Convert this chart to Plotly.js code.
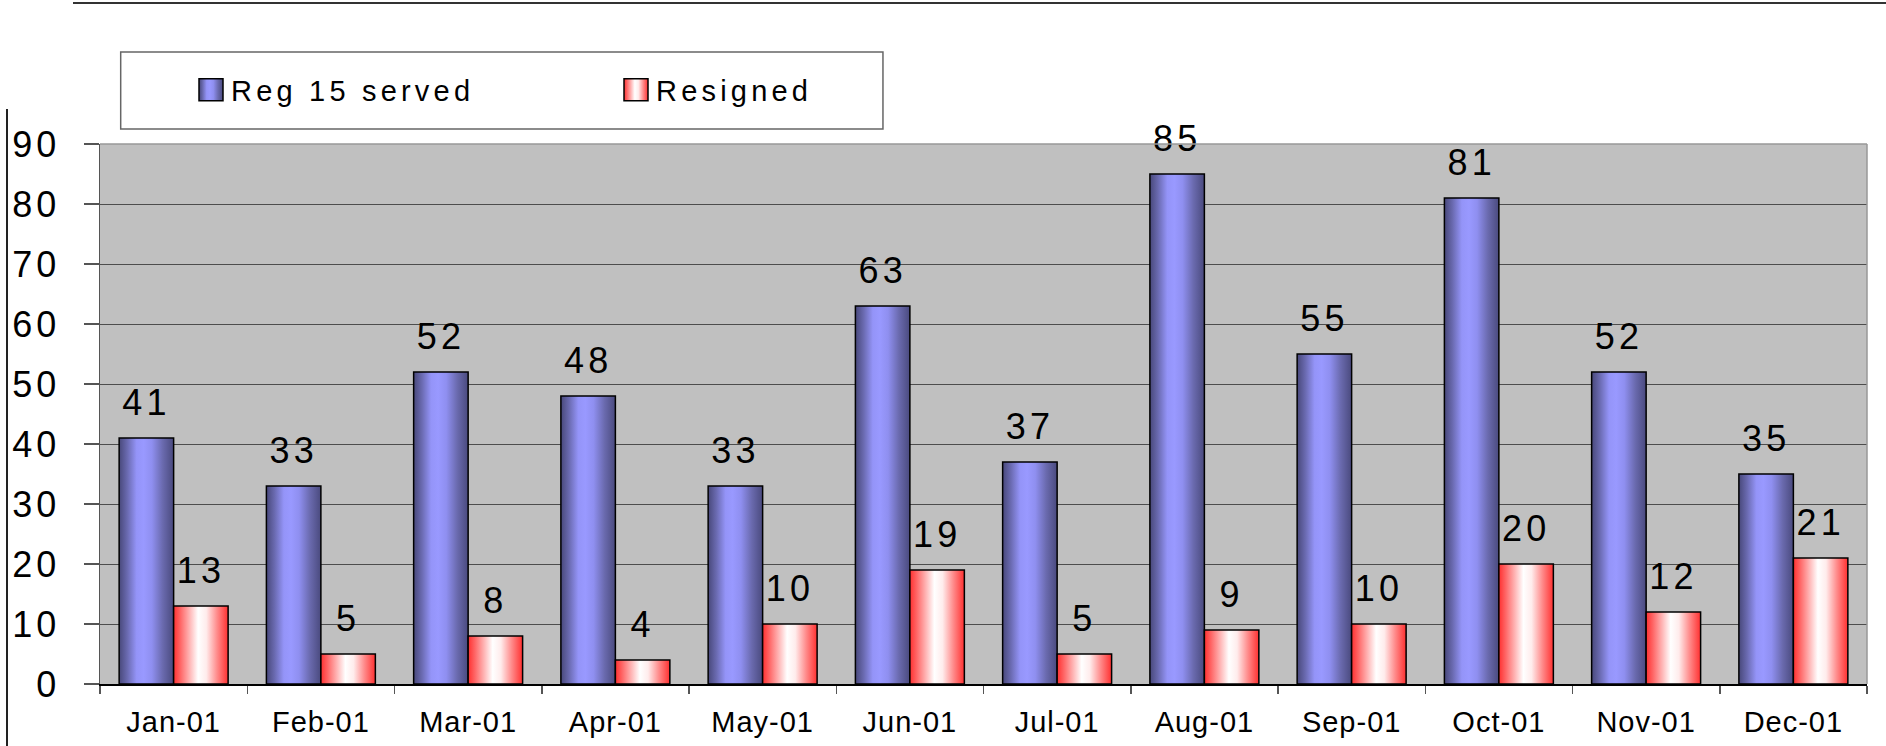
<!DOCTYPE html>
<html>
<head>
<meta charset="utf-8">
<script src="https://cdn.plot.ly/plotly-3.0.1.min.js"></script>
<style>
html,body{margin:0;padding:0;background:#fff;}
#chart{width:1886px;height:746px;}
.ytick text{letter-spacing:4px;}
.bartext{letter-spacing:4px;}
.xtick text{letter-spacing:1px;}
.legendtext{letter-spacing:4.2px;}
</style>
</head>
<body>
<div id="chart"></div>
<script>
// ---- data ----
const months = ['Jan-01','Feb-01','Mar-01','Apr-01','May-01','Jun-01','Jul-01','Aug-01','Sep-01','Oct-01','Nov-01','Dec-01'];
const served = [41,33,52,48,33,63,37,85,55,81,52,35];
const resigned = [13,5,8,4,10,19,5,9,10,20,12,21];
const seriesNames = ['Reg 15 served','Resigned'];
const yTicks = [0,10,20,30,40,50,60,70,80,90];

// ---- styles ----
const blueStops = [[0,'#48487a'],[0.15,'#6a6ab0'],[0.32,'#9494f8'],[0.45,'#9999ff'],[0.6,'#8f8ff0'],[0.8,'#6a6aae'],[1,'#4a4a7e']];
const redStops = [[0,'#ff3030'],[0.12,'#ff6464'],[0.3,'#ffb8b8'],[0.45,'#ffffff'],[0.6,'#ffecec'],[0.8,'#ff8a8a'],[1,'#ff3030']];

const common = {
  type:'bar', texttemplate:'%{y}', textposition:'outside', cliponaxis:false, constraintext:'none',
  textfont:{size:36, color:'#000', family:'Liberation Sans, Arial, sans-serif'},
  hoverinfo:'skip'
};
const traces = [
  Object.assign({}, common, {x:months, y:served, name:seriesNames[0], marker:{color:'#9999ff', line:{color:'#000', width:1.5}}}),
  Object.assign({}, common, {x:months, y:resigned, name:seriesNames[1], marker:{color:'#ff6666', line:{color:'#000', width:1.5}}})
];

const layout = {
  width:1886, height:746,
  margin:{l:100, r:19, t:144, b:62, pad:0},
  paper_bgcolor:'#ffffff', plot_bgcolor:'#c0c0c0',
  barmode:'group', bargap:0.26, bargroupgap:0,
  font:{family:'Liberation Sans, Arial, sans-serif', color:'#000'},
  showlegend:true,
  legend:{orientation:'h', x:0.0515, xanchor:'left', y:1.1001, yanchor:'middle',
          bgcolor:'rgba(0,0,0,0)', borderwidth:0, font:{size:29, color:'#000'},
          entrywidth:380, entrywidthmode:'pixels', traceorder:'normal'},
  xaxis:{type:'category', showgrid:false, showline:true, linecolor:'#000', linewidth:1.5,
         ticks:'outside', tickson:'boundaries', ticklen:8, tickwidth:1.5, tickcolor:'#555',
         tickfont:{size:29}, ticklabelstandoff:12, zeroline:false, fixedrange:true},
  yaxis:{range:[0,90], tickvals:yTicks, ticks:'outside', ticklen:15, tickwidth:1.5, tickcolor:'#555',
         showline:true, linecolor:'#555', linewidth:1.5, gridcolor:'#4d4d4d', gridwidth:1,
         tickfont:{size:36}, ticklabelstandoff:16, zeroline:false, fixedrange:true},
  shapes:[
    {type:'line', xref:'paper', yref:'paper', x0:-0.01528, x1:1.0108, y0:1.2611, y1:1.2611, line:{color:'#333', width:2}},
    {type:'line', xref:'paper', yref:'paper', x0:-0.05263, x1:-0.05263, y0:1.0648, y1:-0.1148, line:{color:'#222', width:2}},
    {type:'rect', xref:'paper', yref:'paper', x0:0.01171, x1:0.4431, y0:1.0278, y1:1.1704, line:{color:'#666', width:1.5}},
    {type:'line', xref:'paper', yref:'paper', x0:1, x1:1, y0:0, y1:1, line:{color:'#999', width:1.5}},
    {type:'line', xref:'paper', yref:'paper', x0:0, x1:1, y0:1, y1:1, line:{color:'#999', width:1.5}}
  ]
};

Plotly.newPlot('chart', traces, layout, {staticPlot:true, displayModeBar:false, responsive:false}).then(function(gd){
  const ns = 'http://www.w3.org/2000/svg';
  const svg = gd.querySelector('.main-svg');
  let defs = svg.querySelector('defs');
  if(!defs){ defs = document.createElementNS(ns,'defs'); svg.insertBefore(defs, svg.firstChild); }
  function addGrad(id, stops){
    const g = document.createElementNS(ns,'linearGradient');
    g.setAttribute('id', id);
    g.setAttribute('x1','0'); g.setAttribute('x2','1'); g.setAttribute('y1','0'); g.setAttribute('y2','0');
    stops.forEach(function(s){
      const st = document.createElementNS(ns,'stop');
      st.setAttribute('offset', s[0]);
      st.setAttribute('stop-color', s[1]);
      g.appendChild(st);
    });
    defs.appendChild(g);
  }
  addGrad('gBlue', blueStops);
  addGrad('gRed', redStops);
  const grads = ['gBlue','gRed'];
  gd.querySelectorAll('.barlayer .trace').forEach(function(tr,i){
    tr.querySelectorAll('path').forEach(function(p){ p.style.fill = 'url(#' + grads[i] + ')'; });
    tr.querySelectorAll('text.bartext').forEach(function(t){
      t.setAttribute('transform', 'translate(0,-12) ' + (t.getAttribute('transform') || ''));
    });
  });
  gd.querySelectorAll('.legend .traces').forEach(function(tr,i){
    tr.querySelectorAll('.legendpoints path').forEach(function(p){
      p.setAttribute('d','M12,11H-12V-11H12Z');
      p.style.fill = 'url(#' + grads[i] + ')';
    });
  });
});
</script>
</body>
</html>
